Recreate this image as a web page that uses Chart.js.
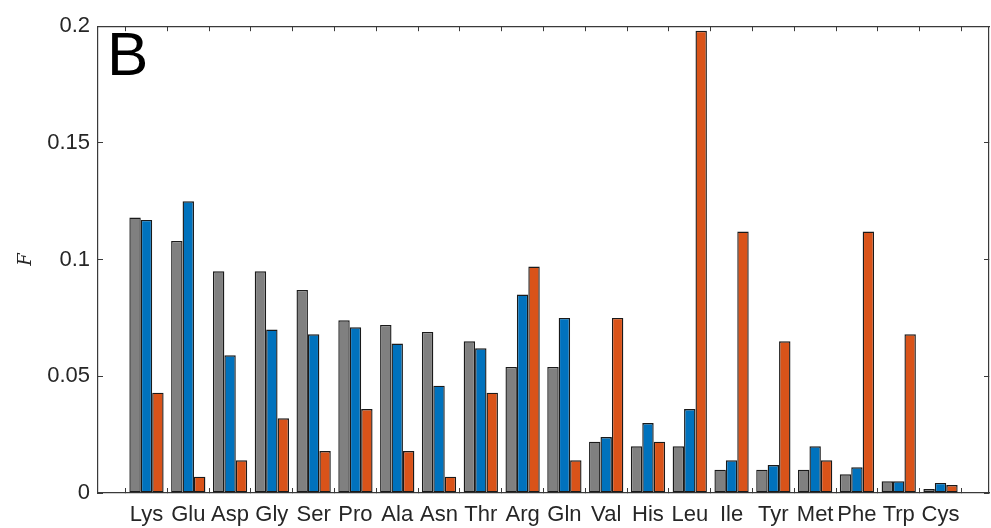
<!DOCTYPE html>
<html>
<head>
<meta charset="utf-8">
<script src="https://cdn.jsdelivr.net/npm/chart.js@4/dist/chart.umd.min.js"></script>
<style>
  html, body { margin: 0; padding: 0; background: #ffffff; }
  #wrap { width: 991px; height: 528px; }
</style>
</head>
<body>
<div id="wrap"><canvas id="c" width="991" height="528"></canvas></div>
<script>
// ---- data ----
const categories = ['Lys','Glu','Asp','Gly','Ser','Pro','Ala','Asn','Thr','Arg','Gln','Val','His','Leu','Ile','Tyr','Met','Phe','Trp','Cys'];
const grayValues   = [0.118, 0.108, 0.095, 0.095, 0.087, 0.074, 0.072, 0.069, 0.065, 0.054, 0.054, 0.022, 0.020, 0.020, 0.010, 0.010, 0.010, 0.008, 0.005, 0.0017];
const blueValues   = [0.117, 0.125, 0.059, 0.070, 0.068, 0.071, 0.064, 0.046, 0.062, 0.085, 0.075, 0.024, 0.030, 0.036, 0.014, 0.012, 0.020, 0.011, 0.005, 0.0043];
const orangeValues = [0.043, 0.007, 0.014, 0.032, 0.018, 0.036, 0.018, 0.007, 0.043, 0.097, 0.014, 0.075, 0.022, 0.198, 0.112, 0.065, 0.014, 0.112, 0.068, 0.0034];
const yTickValues  = [0, 0.05, 0.1, 0.15, 0.2];
const yTickLabels  = ['0', '0.05', '0.1', '0.15', '0.2'];
const panelLabel = 'B';
const yAxisTitle = 'F';

// ---- build chart ----
const toPoints = arr => arr.map((v, i) => ({ x: i + 1, y: v }));
const axisColor = '#3a3a3a';
const textColor = '#262626';
const tickFont = { family: "'Liberation Sans', Arial, Helvetica, sans-serif", size: 22 };

const catTicks = scale => { scale.ticks = categories.map((c, i) => ({ value: i + 1 })); };
const yTicks = scale => { scale.ticks = yTickValues.map(v => ({ value: v })); };

const panelPlugin = {
  id: 'panelLabel',
  afterDraw(chart) {
    const ctx = chart.ctx, a = chart.chartArea;
    ctx.save();
    ctx.fillStyle = '#000000';
    ctx.font = "62px 'Liberation Sans', Arial, sans-serif";
    ctx.textAlign = 'left';
    ctx.textBaseline = 'alphabetic';
    ctx.fillText(panelLabel, a.left + 9, a.top + 49);
    ctx.restore();
  }
};

const bgPlugin = {
  id: 'bg',
  beforeDraw(chart) {
    const ctx = chart.ctx;
    ctx.save();
    ctx.fillStyle = '#ffffff';
    ctx.fillRect(0, 0, chart.width, chart.height);
    ctx.restore();
  }
};

const barStyle = { borderColor: '#1a1a1a', borderWidth: 1.4, borderSkipped: false, xAxisID: 'x', yAxisID: 'y' };

new Chart(document.getElementById('c'), {
  type: 'bar',
  data: {
    datasets: [
      Object.assign({ data: toPoints(grayValues),   backgroundColor: '#808080' }, barStyle),
      Object.assign({ data: toPoints(blueValues),   backgroundColor: '#0072BD' }, barStyle),
      Object.assign({ data: toPoints(orangeValues), backgroundColor: '#D95319' }, barStyle)
    ]
  },
  options: {
    responsive: false,
    devicePixelRatio: 1,
    animation: false,
    layout: { padding: 0 },
    categoryPercentage: 0.82,
    barPercentage: 1.0,
    plugins: { legend: { display: false }, tooltip: { enabled: false } },
    scales: {
      x: {
        type: 'linear', position: 'bottom', offset: false,
        min: -0.16, max: 21.16,
        afterBuildTicks: catTicks,
        afterFit: s => { s.height = 35; },
        grid: { drawOnChartArea: false, drawTicks: true, tickLength: -5, color: axisColor, lineWidth: 1 },
        border: { display: true, color: axisColor, width: 1.2 },
        ticks: { autoSkip: false, maxRotation: 0, minRotation: 0, padding: 14, color: textColor, font: tickFont,
                 callback: v => categories[v - 1] }
      },
      x2: {
        type: 'linear', position: 'top', offset: false,
        min: -0.16, max: 21.16,
        afterBuildTicks: catTicks,
        afterFit: s => { s.height = 24; },
        grid: { drawOnChartArea: false, drawTicks: true, tickLength: -5, color: axisColor, lineWidth: 1 },
        border: { display: true, color: axisColor, width: 1.2 },
        ticks: { display: false }
      },
      y: {
        type: 'linear', position: 'left',
        min: 0, max: 0.2,
        afterBuildTicks: yTicks,
        afterFit: s => { s.width = 98; },
        grid: { drawOnChartArea: false, drawTicks: true, tickLength: -5, color: axisColor, lineWidth: 1 },
        border: { display: true, color: axisColor, width: 1.2 },
        ticks: { padding: 13, color: textColor, font: tickFont,
                 callback: v => yTickLabels[yTickValues.indexOf(v)] },
        title: { display: true, text: yAxisTitle, color: textColor, padding: { top: 16, bottom: 0 },
                 font: { family: "'DejaVu Serif', 'Liberation Serif', serif", size: 18, style: 'italic' } }
      },
      y2: {
        type: 'linear', position: 'right',
        min: 0, max: 0.2,
        afterBuildTicks: yTicks,
        afterFit: s => { s.width = 2; },
        grid: { drawOnChartArea: false, drawTicks: true, tickLength: -5, color: axisColor, lineWidth: 1 },
        border: { display: true, color: axisColor, width: 1.2 },
        ticks: { display: false }
      }
    }
  },
  plugins: [bgPlugin, panelPlugin]
});
</script>
</body>
</html>
